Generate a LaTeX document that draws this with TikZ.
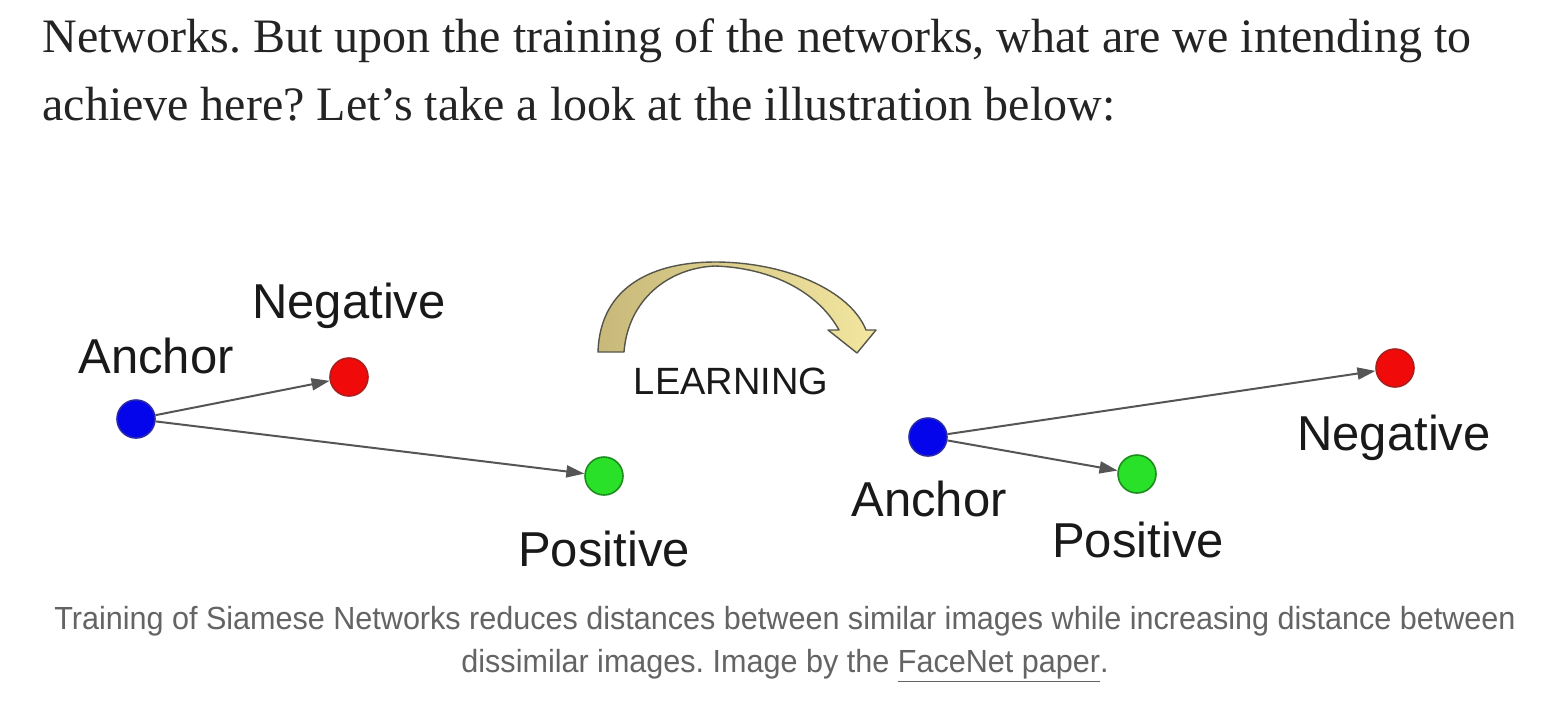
\documentclass[tikz,border=0pt]{standalone}
\usepackage{fontspec}
\setmainfont{Liberation Serif}
\newfontfamily\lblfont{Liberation Sans}
\usetikzlibrary{arrows.meta}
\frenchspacing
\definecolor{bodytxt}{RGB}{36,36,36}
\definecolor{captxt}{RGB}{100,100,100}
\definecolor{linegray}{RGB}{85,85,85}
\definecolor{dotblue}{RGB}{5,5,235}
\definecolor{dotblueb}{RGB}{40,40,170}
\definecolor{dotred}{RGB}{240,10,10}
\definecolor{dotredb}{RGB}{170,30,30}
\definecolor{dotgreen}{RGB}{40,225,40}
\definecolor{dotgreenb}{RGB}{30,140,30}
\definecolor{tanL}{RGB}{200,185,122}
\definecolor{tanR}{RGB}{242,230,160}
\definecolor{tanB}{RGB}{85,85,75}
\tikzset{
  dot/.style={circle,inner sep=0pt,minimum size=19pt,line width=0.8pt},
  lbl/.style={font=\lblfont\fontsize{24.5}{28}\selectfont,text=black!90,anchor=base,inner sep=0pt},
  conn/.style={draw=linegray,line width=1pt,-{Triangle[length=9pt,width=6pt]}},
  bodyline/.style={font=\fontsize{24}{28}\selectfont,text=bodytxt,anchor=base west,inner sep=0pt},
  capline/.style={font=\lblfont\fontsize{16}{20}\selectfont,text=captxt,anchor=base,inner sep=0pt}
}
\begin{document}
\begin{tikzpicture}[x=0.5pt,y=-0.5pt]
\useasboundingbox[fill=white] (0,0) rectangle (1558,703);
% body text
\node[bodyline] (t1) at (42,52) {Networks. But upon the training of the networks, what are we intending to};
\node[bodyline] (t2) at (42,120) {achieve here? Let’s take a look at the illustration below:};
% left configuration
\node[dot,fill=dotblue,draw=dotblueb] (a1) at (136,419) {};
\node[dot,fill=dotred,draw=dotredb] (n1) at (349,377) {};
\node[dot,fill=dotgreen,draw=dotgreenb] (p1) at (604,476) {};
\draw[conn] (a1) -- (n1);
\draw[conn] (a1) -- (p1);
\node[lbl] (la1) at (156,373) {Anchor};
\node[lbl] (ln1) at (349,318) {Negative};
\node[lbl] (lp1) at (604,566) {Positive};
% learning arrow
\shade[left color=tanL,right color=tanR,draw=tanB,line width=0.7pt,line join=round]
  (598,352) .. controls (600,285) and (655,262) .. (715,262)
  .. controls (785,262) and (850,290) .. (866,330)
  -- (876,330) -- (857,353) -- (828,330) -- (839,330)
  .. controls (818,292) and (772,268) .. (715,266)
  .. controls (668,268) and (628,300) .. (624,352) -- cycle;
\node[lbl,font=\lblfont\fontsize{19}{22}\selectfont] (learn) at (731,394) {LEARNING};
% right configuration
\node[dot,fill=dotblue,draw=dotblueb] (a2) at (928,437) {};
\node[dot,fill=dotgreen,draw=dotgreenb] (p2) at (1137,474) {};
\node[dot,fill=dotred,draw=dotredb] (n2) at (1395,368) {};
\draw[conn] (a2) -- (n2);
\draw[conn] (a2) -- (p2);
\node[lbl] (la2) at (929,516) {Anchor};
\node[lbl] (lp2) at (1138,557) {Positive};
\node[lbl] (ln2) at (1394,450) {Negative};
% caption
\node[capline] (c1) at (785,629) {\scalebox{0.955}[1]{Training of Siamese Networks reduces distances between similar images while increasing distance between}};
\node[capline] (c2) at (785,672) {\scalebox{0.955}[1]{dissimilar images. Image by the \underline{FaceNet paper}.}};
\end{tikzpicture}
\end{document}
